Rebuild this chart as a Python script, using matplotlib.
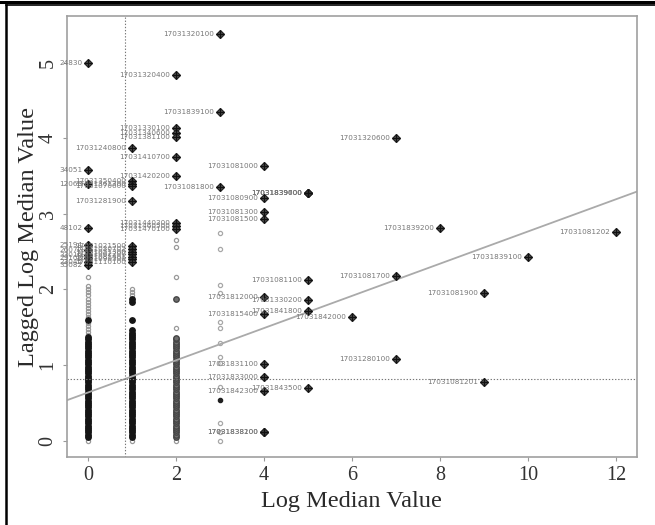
import matplotlib
matplotlib.use("Agg")
import matplotlib.pyplot as plt
from matplotlib.lines import Line2D

plt.rcParams.update({
    "font.family": ["Liberation Serif", "DejaVu Serif"],
    "axes.linewidth": 1.2,
})

# --- data ---
# dense stacks of ordinary points at x = 0, 1, 2 (overlap into solid bars)
STACK0_DARK = [0.05, 0.08, 0.11, 0.14, 0.17, 0.20, 0.23, 0.26, 0.29, 0.32,
               0.35, 0.38, 0.41, 0.44, 0.47, 0.50, 0.53, 0.56, 0.59, 0.62,
               0.65, 0.68, 0.71, 0.74, 0.77, 0.80, 0.83, 0.86, 0.89, 0.92,
               0.95, 0.98, 1.01, 1.04, 1.07, 1.10, 1.13, 1.16, 1.19, 1.22,
               1.25, 1.28, 1.31, 1.34, 1.37, 1.60]
STACK0_GREY = [0.00, 1.40, 1.44, 1.48, 1.52, 1.56, 1.64, 1.68, 1.72, 1.76,
               1.80, 1.84, 1.88, 1.92, 1.96, 2.00, 2.04, 2.16]
STACK1_DARK = [0.05, 0.08, 0.11, 0.14, 0.17, 0.20, 0.23, 0.26, 0.29, 0.32,
               0.35, 0.38, 0.41, 0.44, 0.47, 0.50, 0.53, 0.56, 0.59, 0.62,
               0.65, 0.68, 0.71, 0.74, 0.77, 0.80, 0.83, 0.86, 0.89, 0.92,
               0.95, 0.98, 1.01, 1.04, 1.07, 1.10, 1.13, 1.16, 1.19, 1.22,
               1.25, 1.28, 1.31, 1.34, 1.37, 1.40, 1.43, 1.46, 1.60, 1.83,
               1.88]
STACK1_GREY = [0.00, 1.93, 1.97, 2.00]
STACK2_MID = [0.05, 0.08, 0.11, 0.14, 0.17, 0.20, 0.23, 0.26, 0.29, 0.32,
              0.35, 0.38, 0.41, 0.44, 0.47, 0.50, 0.53, 0.56, 0.59, 0.62,
              0.65, 0.68, 0.71, 0.74, 0.77, 0.80, 0.83, 0.86, 0.89, 0.92,
              0.95, 0.98, 1.01, 1.04, 1.07, 1.10, 1.13, 1.16, 1.19, 1.22,
              1.25, 1.28, 1.31, 1.34, 1.36, 1.88]
STACK2_GREY = [0.00, 1.49, 2.16, 2.56, 2.65]
COL3_GREY = [-0.01, 0.12, 0.24, 0.71, 1.03, 1.11, 1.29, 1.49, 1.57, 1.95,
             2.06, 2.53, 2.74]
COL3_DARK = [0.54]

# influential observations (diamond markers with labels)
INF_X = [0, 0, 0, 0, 0, 0, 0, 0, 0, 0,
         1, 1, 1, 1, 1, 1, 1, 1, 1, 1, 1, 1,
         2, 2, 2, 2, 2, 2, 2, 2, 2,
         3, 3, 3,
         4, 4, 4, 4, 4, 4, 4, 4, 4, 4, 4,
         5, 5, 5, 5, 5, 5, 5,
         6, 7, 7, 7, 8, 9, 9, 10, 12]
INF_Y = [4.99, 3.58, 3.39, 2.81, 2.59, 2.52, 2.45, 2.41, 2.36, 2.32,
         3.87, 3.43, 3.40, 3.37, 3.17, 2.58, 2.54, 2.50, 2.47, 2.43, 2.40, 2.36,
         4.83, 4.13, 4.07, 4.01, 3.75, 3.50, 2.88, 2.84, 2.80,
         5.38, 4.35, 3.35,
         3.63, 3.21, 3.03, 2.93, 1.90, 1.67, 1.02, 0.84, 0.66, 0.12, 0.12,
         3.27, 3.27, 3.27, 2.13, 1.86, 1.71, 0.70,
         1.63, 4.00, 2.18, 1.08, 2.81, 1.95, 0.77, 2.43, 2.76]
INF_LABEL = ["24830", "34051", "12063", "48102", "25194", "26077", "33016",
             "29103", "23045", "35082",
             "17031240800", "17031350400", "17031361300", "17031070600",
             "17031281900", "17031021500", "17031030702", "17031051300",
             "17031062200", "17031081401", "17031090300", "17031110100",
             "17031320400", "17031330100", "17031340600", "17031381100",
             "17031410700", "17031420200", "17031440300", "17031460500",
             "17031470100",
             "17031320100", "17031839100", "17031081800",
             "17031081000", "17031080900", "17031081300", "17031081500",
             "17031812000", "17031815400", "17031831100", "17031833000",
             "17031842300", "17031838100", "17031838200",
             "17031839000", "17031839600", "17031839700", "17031081100",
             "17031330200", "17031841800", "17031843500",
             "17031842000", "17031320600", "17031081700", "17031280100",
             "17031839200", "17031081900", "17031081201", "17031839100",
             "17031081202"]

REG_INTERCEPT = 0.636
REG_SLOPE = 0.213
MEAN_X = 0.84
MEAN_Y = 0.81

X_TICKS = [0, 2, 4, 6, 8, 10, 12]
Y_TICKS = [0, 1, 2, 3, 4, 5]

# --- figure ---
fig = plt.figure(figsize=(6.55, 5.25), dpi=100)
ax = fig.add_axes([66.7 / 655, 1 - 457 / 525, 570.3 / 655, 441 / 525])

open_c = dict(linestyle="none", marker="o", markersize=3.0, mfc="none", mew=0.9)
solid_c = dict(linestyle="none", marker="o", markersize=3.9, mew=1.0)
ax.plot([0] * len(STACK0_GREY), STACK0_GREY, color="#9a9a9a", **open_c)
ax.plot([0] * len(STACK0_DARK), STACK0_DARK, color="#151515", **solid_c)
ax.plot([1] * len(STACK1_GREY), STACK1_GREY, color="#9a9a9a", **open_c)
ax.plot([1] * len(STACK1_DARK), STACK1_DARK, color="#151515", **solid_c)
ax.plot([2] * len(STACK2_GREY), STACK2_GREY, color="#9a9a9a", **open_c)
ax.plot([2] * len(STACK2_MID), STACK2_MID, color="#454545", mfc="#6e6e6e",
        **solid_c)
ax.plot([3] * len(COL3_GREY), COL3_GREY, color="#a8a8a8", **open_c)
ax.plot([3] * len(COL3_DARK), COL3_DARK, color="#202020", linestyle="none",
        marker="o", markersize=3.0)

# regression line and mean reference lines
ax.axline((0, REG_INTERCEPT), slope=REG_SLOPE, color="#aaaaaa", lw=1.3)
ax.axvline(MEAN_X, color="#777777", lw=0.8, ls=(0, (1.2, 1.6)))
ax.axhline(MEAN_Y, color="#777777", lw=0.8, ls=(0, (1.2, 1.6)))

# influential points: diamond with a plus, labelled to the left
ax.plot(INF_X, INF_Y, linestyle="none", marker="D", markersize=4.2,
        mfc="#555555", mec="#222222", mew=0.9)
ax.plot(INF_X, INF_Y, linestyle="none", marker="+", markersize=5.2,
        color="#111111", mew=0.9)
for x, y, lab in zip(INF_X, INF_Y, INF_LABEL):
    ax.annotate(lab, (x, y), xytext=(-4, 0), textcoords="offset points",
                ha="right", va="center", fontsize=5.2, color="#777777",
                family="DejaVu Sans")

ax.set_xlim(-0.48, 12.48)
ax.set_ylim(-0.216, 5.616)
ax.set_xticks(X_TICKS)
ax.set_yticks(Y_TICKS)
ax.set_xticklabels([str(t) for t in X_TICKS], fontsize=14.5)
ax.set_yticklabels([str(t) for t in Y_TICKS], fontsize=14.5, rotation=90,
                   va="center")
ax.tick_params(color="#999999", length=3, width=0.8, labelcolor="#333333")
for s in ax.spines.values():
    s.set_color("#a0a0a0")

ax.set_xlabel("Log Median Value", fontsize=17.5, color="#2a2a2a")
ax.set_ylabel("Lagged Log Median Value", fontsize=17.5, color="#2a2a2a")
ax.xaxis.set_label_coords(0.5, -0.077)
ax.yaxis.set_label_coords(-0.049, 0.5)

# black frame around the figure (top double rule, left rule)
fig.add_artist(Line2D([0, 1], [1 - 1.5 / 525] * 2, transform=fig.transFigure,
                      color="black", lw=2.2))
fig.add_artist(Line2D([6 / 655, 1], [1 - 5.2 / 525] * 2,
                      transform=fig.transFigure, color="black", lw=1.2))
fig.add_artist(Line2D([6 / 655] * 2, [0, 1 - 5.2 / 525],
                      transform=fig.transFigure, color="black", lw=1.8))

fig.savefig("out.png", dpi=100)
